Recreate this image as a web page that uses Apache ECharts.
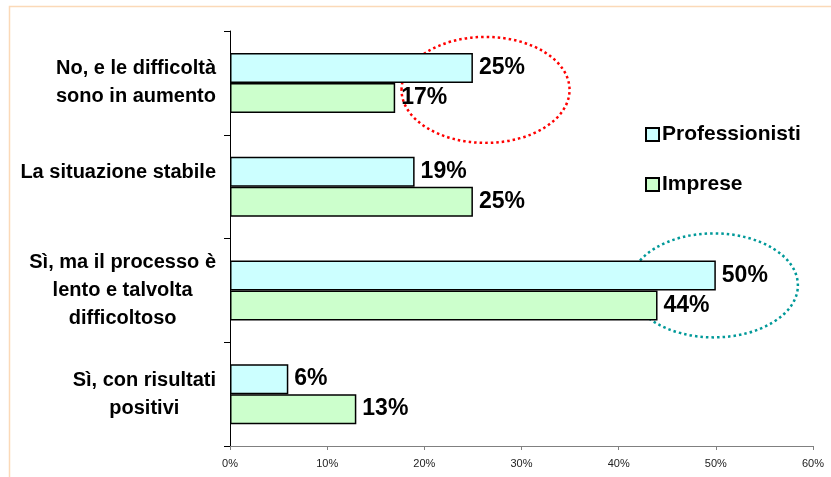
<!DOCTYPE html>
<html>
<head>
<meta charset="utf-8">
<script src="https://cdn.jsdelivr.net/npm/echarts@6/dist/echarts.min.js"></script>
<style>
  html, body { margin: 0; padding: 0; background: #ffffff; }
  #chart { width: 831px; height: 477px; }
</style>
</head>
<body>
<div id="chart"></div>
<script>
// dati
var categories = ['No, e le difficoltà\nsono in aumento', 'La situazione stabile\n', 'Sì, ma il processo è\nlento e talvolta\ndifficoltoso', 'Sì, con risultati\npositivi'];
var professionisti = [25, 19, 50, 6];
var imprese = [17, 25, 44, 13];
var xTicks = [0, 10, 20, 30, 40, 50, 60];

var FONT = '"Liberation Sans", Arial, sans-serif';

var chart = echarts.init(document.getElementById('chart'));

function valueLabel() {
    return {
        show: true,
        position: 'right',
        distance: 6,
        formatter: '{c}%',
        color: '#000',
        fontFamily: FONT,
        fontWeight: 'bold',
        fontSize: 23
    };
}

chart.setOption({
    animation: false,
    backgroundColor: '#ffffff',
    textStyle: { fontFamily: FONT },
    grid: { left: 230, right: 18, top: 31, bottom: 31, containLabel: false },
    // legenda
    legend: {
        orient: 'vertical',
        left: 640,
        top: 119,
        itemWidth: 13,
        itemHeight: 13,
        itemGap: 29,
        icon: 'rect',
        textStyle: { color: '#000', fontFamily: FONT, fontWeight: 'bold', fontSize: 21, padding: [0, 0, 0, -2] },
        data: ['Professionisti', 'Imprese']
    },
    xAxis: {
        type: 'value',
        min: xTicks[0],
        max: xTicks[xTicks.length - 1],
        interval: 10,
        splitLine: { show: false },
        axisLine: { show: true, lineStyle: { color: '#808080', width: 1 } },
        axisTick: { show: true, length: 4, lineStyle: { color: '#808080' } },
        axisLabel: { formatter: '{value}%', color: '#222', fontSize: 11, margin: 12, fontFamily: FONT }
    },
    yAxis: {
        type: 'category',
        inverse: true,
        data: categories,
        axisLine: { show: true, lineStyle: { color: '#000', width: 1 } },
        axisTick: { show: true, length: 6, lineStyle: { color: '#000' } },
        axisLabel: {
            margin: 14,
            align: 'right',
            formatter: function (v) {
                return v.split('\n').map(function (s) { return '{c|' + (s || ' ') + '}'; }).join('\n');
            },
            rich: {
                c: { align: 'center', color: '#000', fontFamily: FONT, fontWeight: 'bold', fontSize: 20, lineHeight: 28 }
            }
        }
    },
    series: [
        {
            name: 'Professionisti',
            type: 'bar',
            barWidth: 30,
            barGap: '0%',
            itemStyle: { color: '#CCFFFF', borderColor: '#000', borderWidth: 1.5 },
            label: valueLabel(),
            data: professionisti
        },
        {
            name: 'Imprese',
            type: 'bar',
            barWidth: 30,
            barGap: '0%',
            itemStyle: { color: '#CCFFCC', borderColor: '#000', borderWidth: 1.5 },
            label: valueLabel(),
            data: imprese
        }
    ]
});

// cornice ed ellissi evidenziate
function drawExtras() {
    var red = chart.convertToPixel({ gridIndex: 0 }, [26.3, 0]);
    var teal = chart.convertToPixel({ gridIndex: 0 }, [49.8, 2]);
    chart.setOption({
        graphic: [
            {
                type: 'rect',
                shape: { x: 9.5, y: 6.5, width: 900, height: 600 },
                style: { fill: 'none', stroke: '#FBD9B8', lineWidth: 1.5 },
                silent: true
            },
            {
                type: 'ellipse',
                shape: { cx: red[0], cy: red[1] + 7, rx: 84, ry: 53 },
                style: { fill: 'none', stroke: '#FF0000', lineWidth: 2.5, lineDash: [2.5, 3] },
                silent: true
            },
            {
                type: 'ellipse',
                shape: { cx: teal[0], cy: teal[1] - 5, rx: 84, ry: 52 },
                style: { fill: 'none', stroke: '#009999', lineWidth: 2.5, lineDash: [2.5, 3] },
                silent: true
            }
        ]
    });
}
drawExtras();
</script>
</body>
</html>
